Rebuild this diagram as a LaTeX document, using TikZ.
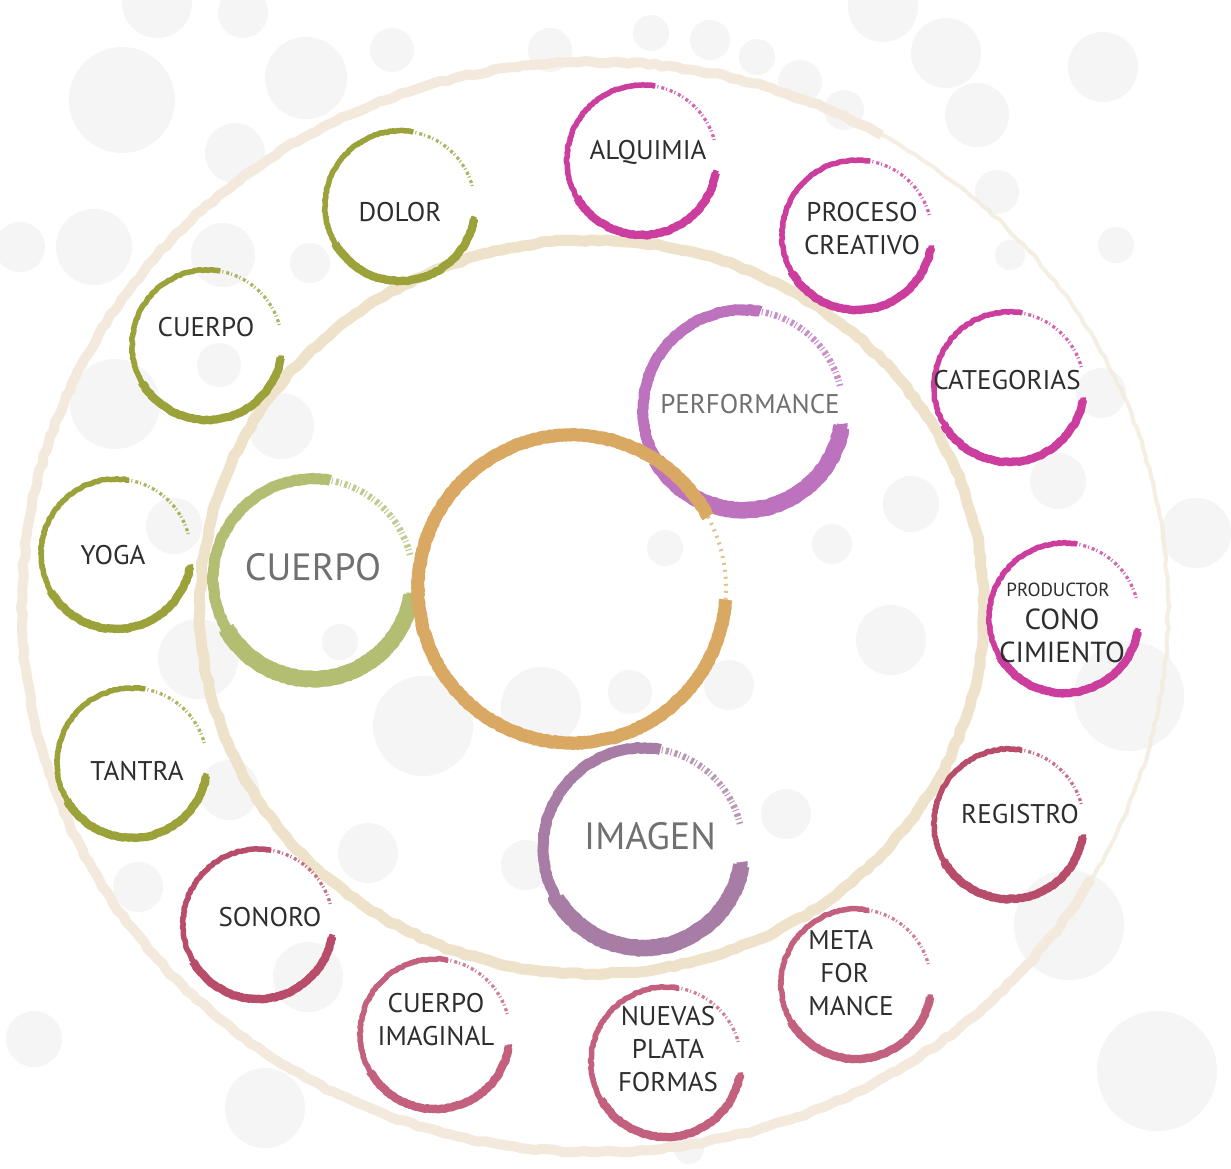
\documentclass[tikz,border=0pt]{standalone}
\usepackage{fontspec}
\setmainfont{PT Sans}
\usetikzlibrary{calc,decorations.pathmorphing}
\definecolor{cOlive}{HTML}{9BA23A}
\definecolor{cLgreen}{HTML}{B3BE72}
\definecolor{cOrange}{HTML}{D9A862}
\definecolor{cOrchid}{HTML}{BD72BE}
\definecolor{cMauve}{HTML}{A77DA5}
\definecolor{cMagenta}{HTML}{CB3E9E}
\definecolor{cCrimson}{HTML}{B84C6B}
\definecolor{cRose}{HTML}{C2607E}
\definecolor{cRingIn}{HTML}{EFE2CB}
\definecolor{cRingOut}{HTML}{F3EADD}
\definecolor{cDot}{HTML}{F5F5F5}
\definecolor{cTxt}{HTML}{2E2E2E}
\definecolor{cTxtL}{HTML}{707070}

\tikzset{
 rough/.style={decorate, decoration={random steps, segment length=2pt, amplitude=0.6pt}, line join=round},
 ringrough/.style={decorate, decoration={random steps, segment length=7pt, amplitude=1.2pt}, line join=round},
 lbl/.style={text=cTxt, font=\fontsize{27}{33}\selectfont, align=center, inner sep=0pt},
 smalllbl/.style={text=cTxt, font=\fontsize{19}{20}\selectfont, inner sep=0pt},
 biglbl/.style={text=cTxtL, font=\fontsize{38}{40}\selectfont, inner sep=0pt},
 perflbl/.style={text=cTxtL, font=\fontsize{27}{28}\selectfont, inner sep=0pt},
}

% #1 centre, #2 radius, #3 colour, #4 stroke width
\newcommand\brushring[4]{%
 \draw[#3, line width=#4, rough] ($(#1)+(352:#2)$) arc[start angle=352, end angle=80, radius=#2];
 \draw[#3, line width=1.5*#4, rough] ($(#1)+(350:#2)$) arc[start angle=350, end angle=210, radius=#2];
 \draw[#3, line width=0.6*#4, dash pattern=on 3pt off 2pt on 1pt off 3pt, opacity=0.8] ($(#1)+(82:#2)$) arc[start angle=82, end angle=14, radius=#2];
}

\begin{document}
\begin{tikzpicture}[x=1pt,y=-1pt]
\pgfmathsetseed{7}
\fill[white] (0,0) rectangle (1231,1168);
\useasboundingbox (0,0) rectangle (1231,1168);

% faint background dots
\foreach \x/\y/\r in {122/100/53, 306/78/41, 392/50/22, 243/13/25, 157/3/35, 235/153/30,
  94/247/38, 20/247/25, 310/263/20, 223/255/32, 550/50/22, 651/33/18, 710/40/20, 757/57/18,
  800/82/22, 883/7/35, 946/53/35, 977/115/32, 1103/67/35, 997/192/22, 1116/245/18,
  1010/255/15, 844/110/20, 115/404/45, 219/365/22, 281/426/33, 174/526/28,
  423/726/50, 340/642/18, 198/659/40, 368/853/30, 138/887/25, 308/977/35, 34/1039/28,
  265/1108/40, 541/707/40, 526/865/25, 229/790/30, 891/640/35, 729/685/25, 630/692/22,
  786/814/25, 1129/696/55, 1069/925/55, 1157/1071/60, 689/1149/15, 1101/393/25,
  911/504/28, 1196/533/35, 1058/481/28, 832/544/20, 665/548/18}
  \fill[cDot] (\x,\y) circle[radius=\r];

% concentric beige rings
\coordinate (ringC) at (595,607);
\draw[cRingOut, line width=10pt, ringrough] ($(ringC)+(60:573pt and 545pt)$)
  arc[start angle=60, end angle=330, x radius=573pt, y radius=545pt];
\draw[cRingOut, line width=4pt, ringrough, opacity=0.8] ($(ringC)+(330:573pt and 545pt)$)
  arc[start angle=330, end angle=420, x radius=573pt, y radius=545pt];
\coordinate (ringI) at (592,607);
\draw[cRingIn, line width=11pt, ringrough] (ringI) ellipse[x radius=392pt, y radius=367pt];

% small outer circles
\coordinate (c-dolor) at (400,206);
\coordinate (c-cuerpo) at (207,345);
\coordinate (c-yoga) at (116,554);
\coordinate (c-tantra) at (132,763);
\coordinate (c-sonoro) at (258,924);
\coordinate (c-cimag) at (435,1034);
\coordinate (c-nuevas) at (666,1062);
\coordinate (c-meta) at (856,984);
\coordinate (c-registro) at (1009,824);
\coordinate (c-conoc) at (1064,618);
\coordinate (c-categ) at (1009,387);
\coordinate (c-proceso) at (857,235);
\coordinate (c-alqui) at (642,160);

\brushring{c-dolor}{75pt}{cOlive}{5.5pt}
\brushring{c-cuerpo}{75pt}{cOlive}{5.5pt}
\brushring{c-yoga}{75pt}{cOlive}{5.5pt}
\brushring{c-tantra}{75pt}{cOlive}{5.5pt}
\brushring{c-sonoro}{75pt}{cCrimson}{5.5pt}
\brushring{c-cimag}{75pt}{cRose}{5.5pt}
\brushring{c-nuevas}{75pt}{cRose}{5.5pt}
\brushring{c-meta}{75pt}{cRose}{5.5pt}
\brushring{c-registro}{75pt}{cCrimson}{5.5pt}
\brushring{c-conoc}{75pt}{cMagenta}{5.5pt}
\brushring{c-categ}{75pt}{cMagenta}{5.5pt}
\brushring{c-proceso}{75pt}{cMagenta}{5.5pt}
\brushring{c-alqui}{75pt}{cMagenta}{5.5pt}

% big inner circles
\coordinate (c-perf) at (743,410);
\coordinate (c-cuerpoB) at (313,579);
\coordinate (c-imagen) at (643,848);
\coordinate (c-centre) at (572,589);
\brushring{c-perf}{100pt}{cOrchid}{11pt}
\brushring{c-cuerpoB}{100pt}{cLgreen}{11pt}
\brushring{c-imagen}{100pt}{cMauve}{11pt}
\draw[cOrange, line width=13pt, rough] ($(c-centre)+(28:154pt)$) arc[start angle=28, end angle=356, radius=154pt];
\draw[cOrange, line width=4pt, dash pattern=on 2pt off 5pt, opacity=0.7] ($(c-centre)+(356:154pt)$) arc[start angle=-4, end angle=28, radius=154pt];

% labels
\node[lbl] (dolor) at (400,212) {DOLOR};
\node[lbl] (cuerpo) at (206,327) {CUERPO};
\node[lbl] (yoga) at (113,555) {YOGA};
\node[lbl] (tantra) at (137,771) {TANTRA};
\node[lbl] (sonoro) at (270,917) {SONORO};
\node[lbl] (cimag) at (436,1020) {CUERPO\\IMAGINAL};
\node[lbl] (nuevas) at (668,1049) {NUEVAS\\PLATA\\FORMAS};
\node[lbl, align=left] (meta) at (851,973) {META\\\hspace*{12pt}FOR\\MANCE};
\node[lbl] (registro) at (1020,814) {REGISTRO};
\node[smalllbl] (productor) at (1058,590) {PRODUCTOR};
\node[lbl, font=\fontsize{29}{33}\selectfont] (conoc) at (1062,636) {CONO\\CIMIENTO};
\node[lbl] (categ) at (1007,380) {CATEGORIAS};
\node[lbl] (proceso) at (862,229) {PROCESO\\CREATIVO};
\node[lbl] (alqui) at (648,152) {ALQUIMIA};
\node[perflbl] (perf) at (750,404) {PERFORMANCE};
\node[biglbl] (cuerpoB) at (313,567) {CUERPO};
\node[biglbl] (imagen) at (650,836) {IMAGEN};
\end{tikzpicture}
\end{document}
